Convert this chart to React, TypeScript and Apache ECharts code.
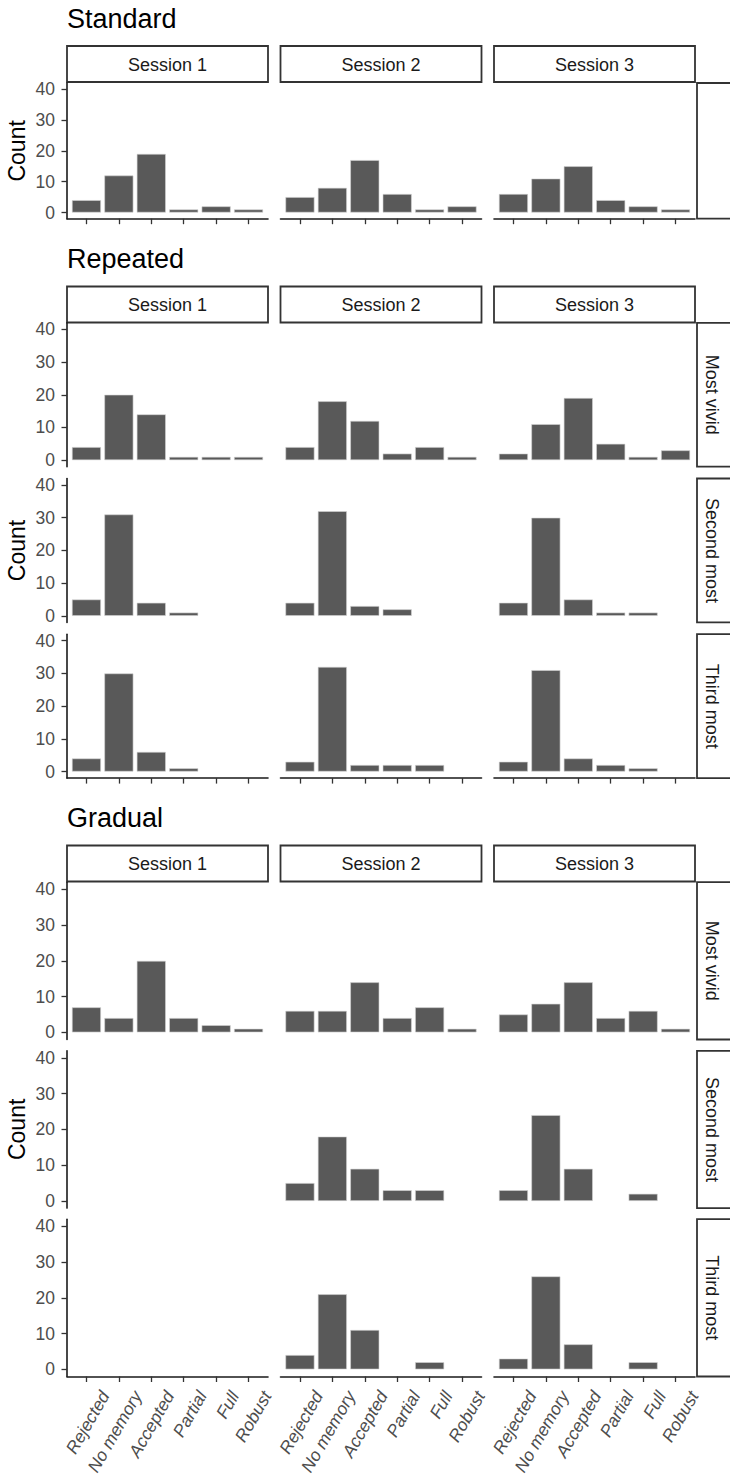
import React, { useEffect, useRef } from "react";
import * as echarts from "echarts";

// ---------- data ----------
const categories = ["Rejected", "No memory", "Accepted", "Partial", "Full", "Robust"];
const sessions = ["Session 1", "Session 2", "Session 3"];
const yTicks = [0, 10, 20, 30, 40];
const rowLabels = ["Most vivid", "Second most", "Third most"];
const blockTitles = ["Standard", "Repeated", "Gradual"];

// Standard
const standardS1 = [4, 12, 19, 1, 2, 1];
const standardS2 = [5, 8, 17, 6, 1, 2];
const standardS3 = [6, 11, 15, 4, 2, 1];

// Repeated
const repeatedVividS1 = [4, 20, 14, 1, 1, 1];
const repeatedVividS2 = [4, 18, 12, 2, 4, 1];
const repeatedVividS3 = [2, 11, 19, 5, 1, 3];
const repeatedSecondS1 = [5, 31, 4, 1, 0, 0];
const repeatedSecondS2 = [4, 32, 3, 2, 0, 0];
const repeatedSecondS3 = [4, 30, 5, 1, 1, 0];
const repeatedThirdS1 = [4, 30, 6, 1, 0, 0];
const repeatedThirdS2 = [3, 32, 2, 2, 2, 0];
const repeatedThirdS3 = [3, 31, 4, 2, 1, 0];

// Gradual
const gradualVividS1 = [7, 4, 20, 4, 2, 1];
const gradualVividS2 = [6, 6, 14, 4, 7, 1];
const gradualVividS3 = [5, 8, 14, 4, 6, 1];
const gradualSecondS1 = [0, 0, 0, 0, 0, 0];
const gradualSecondS2 = [5, 18, 9, 3, 3, 0];
const gradualSecondS3 = [3, 24, 9, 0, 2, 0];
const gradualThirdS1 = [0, 0, 0, 0, 0, 0];
const gradualThirdS2 = [4, 21, 11, 0, 2, 0];
const gradualThirdS3 = [3, 26, 7, 0, 2, 0];

const blockData = [
  { rows: [""], values: [[standardS1, standardS2, standardS3]], showLabels: false },
  {
    rows: rowLabels,
    values: [
      [repeatedVividS1, repeatedVividS2, repeatedVividS3],
      [repeatedSecondS1, repeatedSecondS2, repeatedSecondS3],
      [repeatedThirdS1, repeatedThirdS2, repeatedThirdS3],
    ],
    showLabels: false,
  },
  {
    rows: rowLabels,
    values: [
      [gradualVividS1, gradualVividS2, gradualVividS3],
      [gradualSecondS1, gradualSecondS2, gradualSecondS3],
      [gradualThirdS1, gradualThirdS2, gradualThirdS3],
    ],
    showLabels: true,
  },
];

// ---------- layout / style ----------
const FONT = "'Liberation Sans', Arial, Helvetica, sans-serif";
const COL_LEFT = [67, 280.5, 494];
const PANEL_W = 201;
const X_MIN = 0.4;
const X_MAX = 6.6;
const Y_MIN = -2;
const Y_MAX = 42;
const BAR_W = 29;
const LABEL_SHIFT = 0.57;
const AXIS_COLOR = "#1a1a1a";
const TICK_TEXT = "#4d4d4d";
const STRIP_STROKE = "#333333";
const BAR_FILL = "#595959";

const blockLayout = [
  { titleY: 19, stripTop: 46, rowTops: [83], rowH: 135.7 },
  { titleY: 259, stripTop: 286.5, rowTops: [322.8, 478.5, 634.2], rowH: 143.9 },
  { titleY: 817.5, stripTop: 845.5, rowTops: [882.2, 1050.8, 1219.2], rowH: 157.3 },
];

function buildOption() {
  const grids: any[] = [];
  const xAxes: any[] = [];
  const yAxes: any[] = [];
  const series: any[] = [];
  const graphics: any[] = [];
  const xTickValues = categories.map((_, i) => i + 1);

  blockData.forEach((b, bi) => {
    const L = blockLayout[bi];
    graphics.push({
      type: "text",
      x: COL_LEFT[0],
      y: L.titleY,
      style: { text: blockTitles[bi], fontSize: 27, fontFamily: FONT, fill: "#000", align: "left", verticalAlign: "middle" },
    });
    const rowsBottom = L.rowTops[L.rowTops.length - 1] + L.rowH;
    graphics.push({
      type: "text",
      x: 16.5,
      y: (L.rowTops[0] + rowsBottom) / 2,
      rotation: Math.PI / 2,
      style: { text: "Count", fontSize: 23, fontFamily: FONT, fill: "#000", align: "center", verticalAlign: "middle" },
    });
    sessions.forEach((s, ci) => {
      graphics.push({
        type: "rect",
        shape: { x: COL_LEFT[ci], y: L.stripTop, width: PANEL_W, height: 36 },
        style: { fill: "#fff", stroke: STRIP_STROKE, lineWidth: 1.8 },
      });
      graphics.push({
        type: "text",
        x: COL_LEFT[ci] + PANEL_W / 2,
        y: L.stripTop + 18.5,
        style: { text: s, fontSize: 18, fontFamily: FONT, fill: "#1a1a1a", align: "center", verticalAlign: "middle" },
      });
    });

    b.rows.forEach((rowName, ri) => {
      const isBottom = ri === b.rows.length - 1;
      const top = L.rowTops[ri];
      graphics.push({
        type: "rect",
        shape: { x: 697, y: top, width: 40, height: L.rowH },
        style: { fill: "#fff", stroke: STRIP_STROKE, lineWidth: 1.8 },
      });
      if (rowName) {
        graphics.push({
          type: "text",
          x: 712,
          y: top + L.rowH / 2,
          rotation: -Math.PI / 2,
          style: { text: rowName, fontSize: 18, fontFamily: FONT, fill: "#1a1a1a", align: "center", verticalAlign: "middle" },
        });
      }

      b.values[ri].forEach((vals: number[], ci: number) => {
        const gi = grids.length;
        grids.push({
          left: COL_LEFT[ci],
          top,
          width: PANEL_W,
          height: L.rowH,
          containLabel: false,
          outerBoundsMode: "none",
        });
        const xi = xAxes.length;
        xAxes.push({
          type: "value",
          gridIndex: gi,
          min: X_MIN,
          max: X_MAX,
          position: "bottom",
          axisLine: { show: isBottom, onZero: false, lineStyle: { color: AXIS_COLOR, width: 1.6 } },
          axisTick: { show: isBottom, customValues: xTickValues, length: 5.5, lineStyle: { color: "#333", width: 1.3 } },
          axisLabel: { show: false },
          splitLine: { show: false },
        });
        if (isBottom && b.showLabels) {
          xAxes.push({
            type: "value",
            gridIndex: gi,
            min: X_MIN - LABEL_SHIFT,
            max: X_MAX - LABEL_SHIFT,
            position: "bottom",
            offset: 0,
            axisLine: { show: false, onZero: false },
            axisTick: { show: false },
            splitLine: { show: false },
            axisLabel: {
              show: true,
              customValues: xTickValues,
              rotate: 60,
              margin: 16,
              fontSize: 17.5,
              fontStyle: "italic",
              fontFamily: FONT,
              color: TICK_TEXT,
              formatter: (v: number) => categories[Math.round(v) - 1] || "",
            },
          });
        }
        const yi = yAxes.length;
        yAxes.push({
          type: "value",
          gridIndex: gi,
          min: Y_MIN,
          max: Y_MAX,
          axisLine: { show: ci === 0, onZero: false, lineStyle: { color: AXIS_COLOR, width: 1.6 } },
          axisTick: { show: ci === 0, customValues: yTicks, length: 5.5, lineStyle: { color: "#333", width: 1.3 } },
          axisLabel: {
            show: ci === 0,
            customValues: yTicks,
            margin: 12,
            fontSize: 17.5,
            fontFamily: FONT,
            color: TICK_TEXT,
          },
          splitLine: { show: false },
        });
        series.push({
          type: "bar",
          xAxisIndex: xi,
          yAxisIndex: yi,
          barWidth: BAR_W,
          data: vals.map((v, i) => [i + 1, v]).filter((d) => d[1] > 0),
          itemStyle: { color: BAR_FILL, borderColor: "#d4d4d4", borderWidth: 0.6 },
          silent: true,
        });
      });
    });
  });

  return {
    animation: false,
    backgroundColor: "#ffffff",
    grid: grids,
    xAxis: xAxes,
    yAxis: yAxes,
    series,
    graphic: graphics,
  };
}

export default function App() {
  const ref = useRef<HTMLDivElement>(null);
  useEffect(() => {
    if (!ref.current) return;
    const chart = echarts.init(ref.current, undefined, { renderer: "svg" });
    chart.setOption(buildOption() as any);
    return () => chart.dispose();
  }, []);
  return (
    <div
      ref={ref}
      style={{ position: "absolute", left: 0, top: 0, width: 730, height: 1478, background: "#fff" }}
    />
  );
}
